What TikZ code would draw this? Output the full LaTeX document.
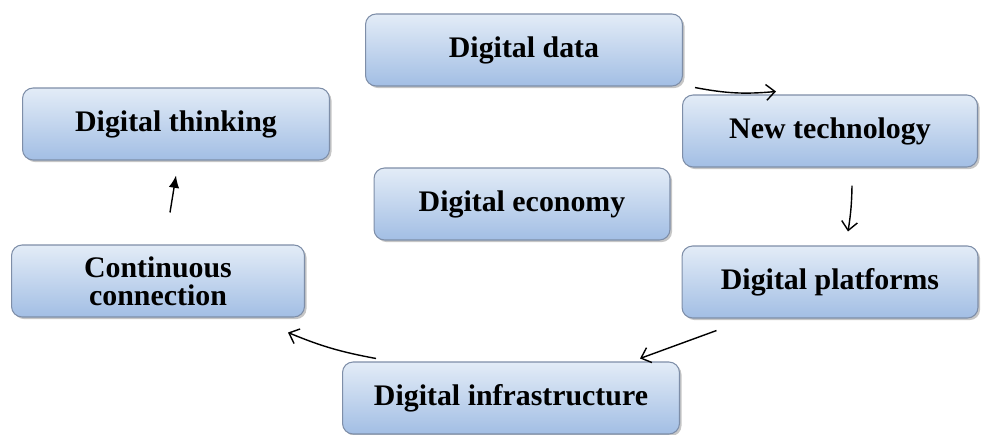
\documentclass[tikz,border=0pt]{standalone}
\usepackage{fontspec}
\setmainfont{Liberation Serif}
\usetikzlibrary{arrows.meta,shadows,calc}

\definecolor{boxtop}{HTML}{E3ECF7}
\definecolor{boxbottom}{HTML}{A2BEE4}
\definecolor{boxline}{HTML}{7E8EA8}

\tikzset{
  stage/.style={draw=boxline, line width=0.6pt, rounded corners=6pt,
    top color=boxtop, bottom color=boxbottom,
    drop shadow={shadow xshift=1.2pt, shadow yshift=-1.2pt, opacity=0.45},
    minimum height=1.44cm, align=center,
    font=\fontsize{17}{16}\selectfont\bfseries},
  flow/.style={line width=0.8pt, -{Straight Barb[length=5pt,width=9pt]}},
}

\begin{document}
\begin{tikzpicture}[x=0.02cm, y=-0.02cm]
  \useasboundingbox (0,0) rectangle (984,434);

  \node[stage, minimum width=6.34cm] (data) at (524,50) {Digital data};
  \node[stage, minimum width=6.14cm] (thinking) at (176,124) {Digital thinking};
  \node[stage, minimum width=5.90cm] (tech) at (830,131) {New technology};
  \node[stage, minimum width=5.92cm] (economy) at (522,204) {Digital economy};
  \node[stage, minimum width=5.86cm] (cont) at (158,281) {Continuous\\connection};
  \node[stage, minimum width=5.92cm] (platforms) at (830,282) {Digital platforms};
  \node[stage, minimum width=6.74cm] (infra) at (511,398) {Digital infrastructure};

  \draw[flow] ($(data.south east)+(12,1)$) to[bend right=8] ($(tech.north west)+(94,-3)$);
  \draw[flow] ($(tech.south)+(22,18)$) to[bend left=4] ($(platforms.north)+(18,-14)$);
  \draw[flow] ($(platforms.south west)+(35,12)$) -- ($(infra.north east)+(-40,-3)$);
  \draw[flow] ($(infra.north west)+(34,-3)$) to[bend left=6] ($(cont.south east)+(-17,15)$);
  \draw[line width=0.8pt, -{Latex[length=7pt,width=6pt]}] ($(cont.north)+(12,-32)$) -- ($(thinking.south)+(0,15)$);
\end{tikzpicture}
\end{document}
